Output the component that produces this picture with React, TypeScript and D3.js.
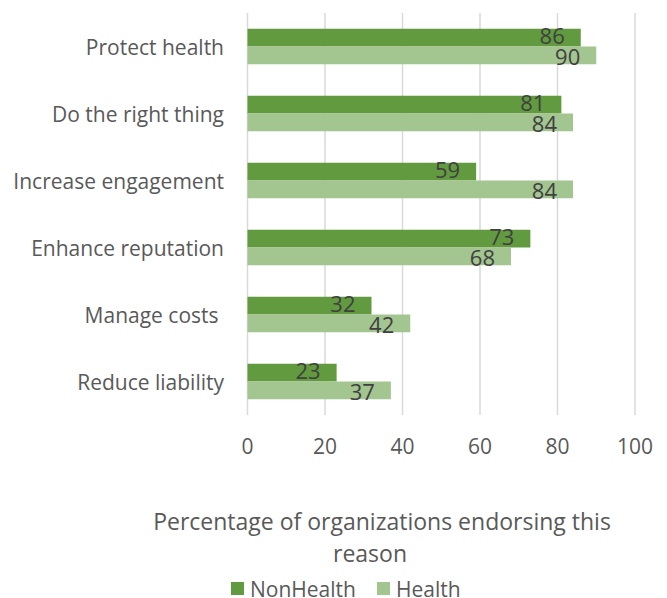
import React from "react";
import * as d3 from "d3";

const categories = [
  "Protect health",
  "Do the right thing",
  "Increase engagement",
  "Enhance reputation",
  "Manage costs ",
  "Reduce liability",
];
const nonHealth = [86, 81, 59, 73, 32, 23];
const health = [90, 84, 84, 68, 42, 37];
const seriesNames = ["NonHealth", "Health"];
const seriesColors = ["#629b3f", "#a3c590"];
const xTicks = [0, 20, 40, 60, 80, 100];
const axisTitle = ["Percentage of organizations endorsing this", "reason"];

const W = 667;
const H = 598;
const FONT = "'Open Sans', sans-serif";

export default function App() {
  const x = d3.scaleLinear().domain([0, 100]).range([247.5, 635]);
  const y = d3
    .scaleBand<string>()
    .domain(categories)
    .range([13, 415])
    .paddingInner(0.47)
    .paddingOuter(0.235);
  const ys = d3
    .scaleBand<string>()
    .domain(seriesNames)
    .range([0, y.bandwidth()]);
  const series = [nonHealth, health];
  const labelOffset = [-10.8, 10.8];

  return (
    <svg
      width={W}
      height={H}
      style={{ position: "absolute", left: 0, top: 0 }}
      fontFamily={FONT}
    >
      <rect width={W} height={H} fill="#fff" />
      {xTicks.map((t) => (
        <line
          key={"g" + t}
          x1={x(t)}
          x2={x(t)}
          y1={13}
          y2={415}
          stroke="#d9d9d9"
          strokeWidth={1.5}
        />
      ))}
      {categories.map((c, i) => {
        const gc = (y(c) as number) + y.bandwidth() / 2;
        return (
          <g key={c}>
            {series.map((s, j) => {
              const yy = (y(c) as number) + (ys(seriesNames[j]) as number);
              return (
                <rect
                  key={"r" + j}
                  x={x(0)}
                  y={yy}
                  width={x(s[i]) - x(0)}
                  height={ys.bandwidth()}
                  fill={seriesColors[j]}
                />
              );
            })}
            {series.map((s, j) => (
              <text
                key={"l" + j}
                x={x(s[i]) - 16}
                y={gc + labelOffset[j] + 7.8}
                textAnchor="end"
                fontSize={22}
                fill="#404040"
              >
                {s[i]}
              </text>
            ))}
            <text
              x={224}
              y={gc + 8.5}
              textAnchor="end"
              fontSize={21}
              fill="#595959"
              style={{ whiteSpace: "pre" }}
            >
              {c}
            </text>
          </g>
        );
      })}
      {xTicks.map((t) => (
        <text
          key={"t" + t}
          x={x(t)}
          y={453.5}
          textAnchor="middle"
          fontSize={21}
          fill="#595959"
        >
          {t}
        </text>
      ))}
      <text x={382} y={530} textAnchor="middle" fontSize={23} fill="#595959">
        {axisTitle[0]}
      </text>
      <text x={370} y={562} textAnchor="middle" fontSize={23} fill="#595959">
        {axisTitle[1]}
      </text>
      {seriesNames.map((n, j) => {
        const lx = [231, 377][j];
        return (
          <g key={n}>
            <rect x={lx} y={582} width={13} height={13} fill={seriesColors[j]} />
            <text x={lx + 19} y={596.5} fontSize={21} fill="#595959">
              {n}
            </text>
          </g>
        );
      })}
    </svg>
  );
}
